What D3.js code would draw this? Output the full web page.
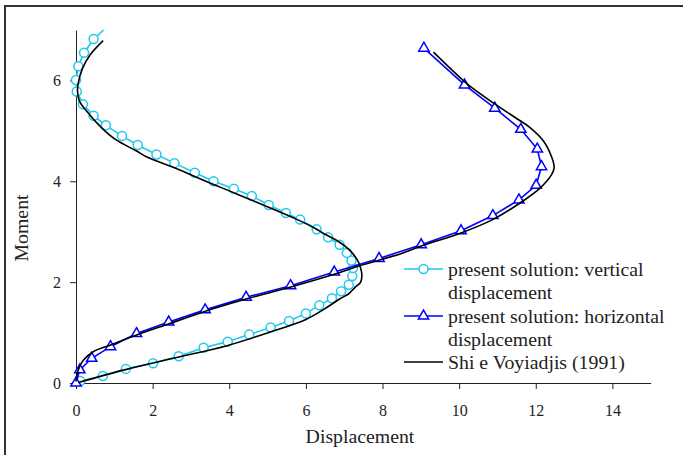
<!DOCTYPE html>
<html>
<head>
<meta charset="utf-8">
<script src="https://cdn.jsdelivr.net/npm/d3@7"></script>
<style>
  body { margin: 0; background: #fff; }
  svg { display: block; }
  text { font-family: "Liberation Serif", "Times New Roman", serif; fill: #222; }
</style>
</head>
<body>
<svg id="chart"></svg>
<script>
// present solution: vertical displacement (last point is line end, no marker)
var vertDisp   = [0.11,0.70,1.30,2.01,2.68,3.33,3.96,4.52,5.08,5.56,6.00,6.35,6.68,6.92,7.12,7.21,7.23,7.19,7.07,6.88,6.58,6.28,5.85,5.48,5.03,4.59,4.12,3.59,3.10,2.57,2.10,1.61,1.20,0.78,0.46,0.18,0.02,0.00,0.06,0.21,0.46,0.72];
var vertMoment = [0.04,0.14,0.28,0.39,0.53,0.70,0.82,0.96,1.10,1.23,1.38,1.54,1.68,1.82,1.95,2.12,2.28,2.43,2.58,2.74,2.89,3.05,3.24,3.37,3.53,3.71,3.85,4.00,4.17,4.36,4.53,4.72,4.90,5.11,5.30,5.53,5.78,6.01,6.28,6.55,6.82,7.00];

// present solution: horizontal displacement
var horDisp   = [0.00,0.10,0.41,0.90,1.58,2.42,3.37,4.44,5.60,6.74,7.91,9.01,10.05,10.88,11.56,12.01,12.15,12.04,11.61,10.93,10.14,9.08];
var horMoment = [0.00,0.26,0.49,0.72,0.98,1.21,1.45,1.70,1.93,2.20,2.47,2.74,3.02,3.32,3.63,3.92,4.29,4.64,5.03,5.45,5.91,6.64];

// Shi e Voyiadjis (1991) - vertical branch
var shiVertDisp   = [0.06,1.32,2.60,3.94,5.07,6.00,6.49,6.89,7.12,7.29,7.43,7.46,7.42,7.35,7.16,6.82,6.50,6.21,5.75,4.95,4.16,3.36,2.60,1.88,1.58,1.03,0.67,0.28,0.09,0.04,0.06,0.17,0.37,0.71];
var shiVertMoment = [0.01,0.27,0.50,0.74,1.01,1.26,1.47,1.67,1.77,1.90,2.00,2.16,2.30,2.43,2.62,2.82,2.95,3.08,3.25,3.51,3.76,4.01,4.26,4.47,4.60,4.83,5.06,5.39,5.59,5.78,5.95,6.24,6.51,6.79];

// Shi e Voyiadjis (1991) - horizontal branch
var shiHorDisp   = [0.00,0.06,0.19,0.45,0.89,1.58,2.45,3.32,4.46,5.59,6.76,7.42,8.46,9.03,10.03,10.90,11.55,12.12,12.42,12.48,12.42,12.20,11.81,11.55,10.90,10.29,9.85,9.33];
var shiHorMoment = [0.03,0.26,0.45,0.62,0.75,0.95,1.18,1.41,1.67,1.90,2.16,2.33,2.56,2.72,2.97,3.25,3.55,3.87,4.14,4.27,4.47,4.80,5.09,5.22,5.55,5.88,6.18,6.56];

var xTicks = [0,2,4,6,8,10,12,14];
var yTicks = [0,2,4,6];
var legendLabels = [
  ["present solution: vertical", "displacement"],
  ["present solution: horizontal", "displacement"],
  ["Shi e Voyiadjis (1991)"]
];

var W = 683, H = 455;
var cyan = "#1ec8f2", blue = "#0000ff", black = "#000";
var serif = '"Liberation Serif", "Times New Roman", serif';

var svg = d3.select("#chart").attr("width", W).attr("height", H);

// outer frame (only left and top edges visible)
svg.append("path")
  .attr("d", "M5,455V6H683")
  .attr("fill", "none")
  .attr("stroke", "#333")
  .attr("stroke-width", 2);

var x = d3.scaleLinear().domain([0, 15]).range([76, 650.7]);
var y = d3.scaleLinear().domain([0, 7]).range([383, 30]);

var xAxis = svg.append("g")
  .attr("transform", "translate(0,383)")
  .call(d3.axisBottom(x).tickValues(xTicks).tickFormat(d3.format("d"))
    .tickSize(6).tickSizeOuter(0).tickPadding(16));

var yAxis = svg.append("g")
  .attr("transform", "translate(76,0)")
  .call(d3.axisLeft(y).tickValues(yTicks).tickFormat(d3.format("d"))
    .tickSize(6).tickSizeOuter(0).tickPadding(9));

svg.selectAll(".tick text")
  .attr("font-family", serif)
  .style("font-family", serif)
  .style("font-size", "16px")
  .attr("fill", "#222");
svg.selectAll(".domain, .tick line").attr("stroke", "#222");

svg.append("text")
  .attr("x", 360).attr("y", 443)
  .attr("text-anchor", "middle")
  .style("font-size", "19.8px")
  .text("Displacement");

svg.append("text")
  .attr("transform", "translate(28,228) rotate(-90)")
  .attr("text-anchor", "middle")
  .style("font-size", "19.8px")
  .text("Moment");

function pairs(xs, ys) { return xs.map(function (v, i) { return [v, ys[i]]; }); }

var line = d3.line().x(d => x(d[0])).y(d => y(d[1]));
var smooth = d3.line().x(d => x(d[0])).y(d => y(d[1])).curve(d3.curveCatmullRom.alpha(0.5));

var vert = pairs(vertDisp, vertMoment);
var hor = pairs(horDisp, horMoment);

// vertical displacement series
svg.append("path").datum(vert)
  .attr("fill", "none").attr("stroke", cyan).attr("stroke-width", 1.6)
  .attr("d", line);
svg.selectAll(".vdot")
  .data(vert.slice(0, vert.length - 1))
  .enter().append("circle")
  .attr("cx", d => x(d[0])).attr("cy", d => y(d[1]))
  .attr("r", 4.5)
  .attr("fill", "#fff").attr("stroke", cyan).attr("stroke-width", 1.5);

// horizontal displacement series
var tri = d3.symbol().type(d3.symbolTriangle).size(46);
svg.append("path").datum(hor)
  .attr("fill", "none").attr("stroke", blue).attr("stroke-width", 1.6)
  .attr("d", line);
svg.selectAll(".hdot")
  .data(hor)
  .enter().append("path")
  .attr("transform", d => "translate(" + x(d[0]) + "," + y(d[1]) + ")")
  .attr("d", tri)
  .attr("fill", "#fff").attr("stroke", blue).attr("stroke-width", 1.5);

// reference solution
[pairs(shiVertDisp, shiVertMoment), pairs(shiHorDisp, shiHorMoment)].forEach(function (s) {
  svg.append("path").datum(s)
    .attr("fill", "none").attr("stroke", black).attr("stroke-width", 1.6)
    .attr("d", smooth);
});

// legend
var leg = svg.append("g");
var rowY = [269, 316, 362];
var lineH = 23;
legendLabels.forEach(function (lbl, i) {
  var cy = rowY[i];
  var col = [cyan, blue, black][i];
  leg.append("line")
    .attr("x1", 404).attr("x2", 443).attr("y1", cy).attr("y2", cy)
    .attr("stroke", col).attr("stroke-width", 1.6);
  if (i === 0) {
    leg.append("circle").attr("cx", 423.5).attr("cy", cy).attr("r", 4.5)
      .attr("fill", "#fff").attr("stroke", cyan).attr("stroke-width", 1.5);
  } else if (i === 1) {
    leg.append("path").attr("transform", "translate(423.5," + cy + ")").attr("d", tri)
      .attr("fill", "#fff").attr("stroke", blue).attr("stroke-width", 1.5);
  }
  lbl.forEach(function (t, j) {
    leg.append("text")
      .attr("x", 448).attr("y", cy + j * lineH)
      .attr("dy", "0.33em")
      .style("font-size", "19.8px")
      .text(t);
  });
});
</script>
</body>
</html>
